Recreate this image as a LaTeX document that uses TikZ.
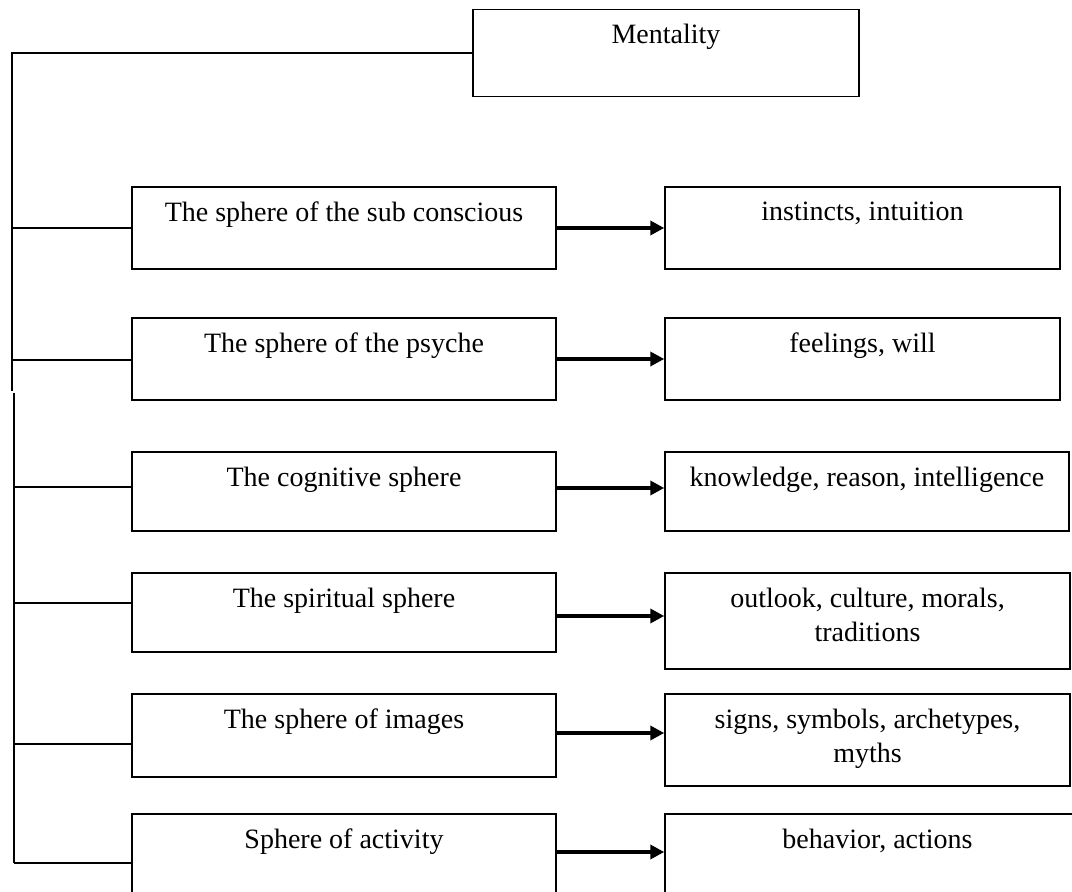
\documentclass[tikz,border=0pt]{standalone}
\usepackage{fontspec}
\setmainfont{Liberation Serif}
\usetikzlibrary{arrows.meta}
\begin{document}
\begin{tikzpicture}[x=0.5pt,y=-0.5pt,
  font=\fontsize{14}{17}\selectfont,
  box/.style={draw=black, line width=0.75pt, inner sep=0pt, fill=none},
  lbl/.style={anchor=north, inner sep=0pt, yshift=-7.5pt, align=center},
  lft/.style={box, minimum width=212pt},
  conn/.style={draw=black, line width=0.75pt},
  arr/.style={draw=black, line width=1.8pt, -{Triangle[length=7pt,width=7pt]}}]
\useasboundingbox (0,0) rectangle (1072,892);
\clip (0,0) rectangle (1072,892);
% top box
\node[box, minimum width=193pt, minimum height=43.5pt, label={[lbl]north:Mentality}] (m) at (666,53) {};
% left boxes
\node[lft, minimum height=41pt,   label={[lbl]north:The sphere of the sub conscious}] (l1) at (344,228) {};
\node[lft, minimum height=41pt,   label={[lbl]north:The sphere of the psyche}] (l2) at (344,359) {};
\node[lft, minimum height=39.5pt, label={[lbl]north:The cognitive sphere}] (l3) at (344,491.5) {};
\node[lft, minimum height=39.5pt, label={[lbl]north:The spiritual sphere}] (l4) at (344,612.5) {};
\node[lft, minimum height=41.5pt, label={[lbl]north:The sphere of images}] (l5) at (344,735.5) {};
\node[lft, minimum height=40.5pt, label={[lbl]north:Sphere of activity}] (l6) at (344,854.5) {};
% right boxes
\node[box, minimum width=197.5pt, minimum height=41pt, label={[lbl]north:instincts, intuition}] (r1) at (862.5,228) {};
\node[box, minimum width=197.5pt, minimum height=41pt, label={[lbl]north:feelings, will}] (r2) at (862.5,359) {};
\node[box, minimum width=202pt, minimum height=39.5pt, label={[lbl]north:knowledge, reason, intelligence}] (r3) at (867,491.5) {};
\node[box, minimum width=202.5pt, minimum height=48pt, label={[lbl]north:outlook, culture, morals,\\traditions}] (r4) at (867.5,621) {};
\node[box, minimum width=202.5pt, minimum height=46pt, label={[lbl]north:signs, symbols, archetypes,\\myths}] (r5) at (867.5,740) {};
\node[box, minimum width=212.5pt, minimum height=40.5pt, label={[lbl]north:behavior, actions}] (r6) at (877.5,854.5) {};
% spine
\coordinate (t0) at (12,53);
\coordinate (t1) at (12,391);
\coordinate (b0) at (14,393);
\coordinate (s1) at (12,228);
\coordinate (s2) at (12,360);
\coordinate (s3) at (14,487);
\coordinate (s4) at (14,603);
\coordinate (s5) at (14,744);
\coordinate (s6) at (14,863);
\draw[conn] (m.west) -- (t0) -- (t1);
\draw[conn] (b0) -- (s6);
\draw[conn] (s1) -- (s1 -| l1.west);
\draw[conn] (s2) -- (s2 -| l2.west);
\draw[conn] (s3) -- (s3 -| l3.west);
\draw[conn] (s4) -- (s4 -| l4.west);
\draw[conn] (s5) -- (s5 -| l5.west);
\draw[conn] (s6) -- (s6 -| l6.west);
% arrows
\draw[arr] (l1.east) -- (l1.east -| r1.west);
\draw[arr] (l2.east) -- (l2.east -| r2.west);
\draw[arr] ([yshift=1.75pt]l3.east) -- ([yshift=1.75pt]l3.east -| r3.west);
\draw[arr] ([yshift=-1.75pt]l4.east) -- ([yshift=-1.75pt]l4.east -| r4.west);
\draw[arr] ([yshift=1.25pt]l5.east) -- ([yshift=1.25pt]l5.east -| r5.west);
\draw[arr] ([yshift=1.25pt]l6.east) -- ([yshift=1.25pt]l6.east -| r6.west);
\end{tikzpicture}
\end{document}
